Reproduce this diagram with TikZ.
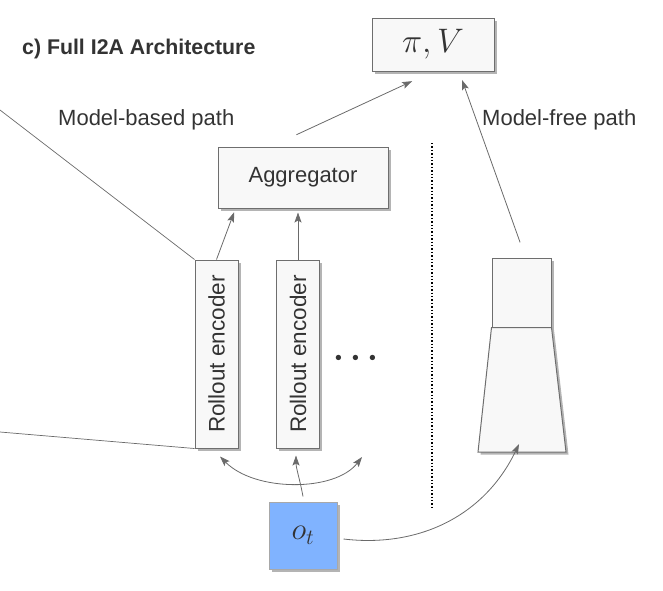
\RequirePackage{fix-cm}
\documentclass[tikz,border=0pt]{standalone}
\usepackage{fontspec}
\usepackage{graphicx}
\usepackage{xcolor}
\usetikzlibrary{arrows.meta, positioning, shadows, shapes.geometric}
\newfontfamily\diagfont{Liberation Sans}
\definecolor{boxfill}{HTML}{F8F8F8}
\definecolor{boxline}{HTML}{6E6E6E}
\definecolor{arrowgray}{HTML}{6A6A6A}
\definecolor{textgray}{HTML}{333333}
\definecolor{obsblue}{HTML}{80B3FF}
\definecolor{shadowgray}{HTML}{B4B4B4}

\begin{document}
\begin{tikzpicture}[
  x=1pt, y=-1pt,
  >={Stealth[length=10pt, width=7pt, inset=2pt]},
  boxlook/.style={
    draw=boxline,
    fill=boxfill,
    line width=1pt,
    drop shadow={shadow xshift=2.5pt, shadow yshift=-2.5pt, fill=shadowgray, opacity=1}
  },
  block/.style={
    boxlook,
    rectangle,
    inner sep=0pt,
    font=\diagfont\fontsize{22}{26}\selectfont,
    text=textgray
  },
  pathtext/.style={
    anchor=base west,
    inner sep=0pt,
    font=\diagfont\fontsize{22}{26}\selectfont,
    text=textgray
  },
  flow/.style={
    ->,
    line width=0.8pt,
    draw=arrowgray
  },
  feed/.style={
    line width=0.7pt,
    draw=arrowgray
  }
]
\useasboundingbox (0,0) rectangle (663,590);

% Output head
\node[block, minimum width=122pt, minimum height=53pt, font=\fontsize{34}{40}\selectfont] (piV) at (433,44.5) {$\pi, V$};

% Model-based path
\node[block, minimum width=170pt, minimum height=61pt] (agg) at (303,177.5) {Aggregator};
\node[block, minimum width=43pt, minimum height=188pt, font=\diagfont\fontsize{22.5}{26}\selectfont] (enc1) at (216.5,354) {\rotatebox{90}{Rollout encoder}};
\node[block, minimum width=43pt, minimum height=188pt, font=\diagfont\fontsize{22.5}{26}\selectfont, right=37.5pt of enc1] (enc2) {\rotatebox{90}{Rollout encoder}};
\node[anchor=base, inner sep=0pt, text=textgray, font=\fontsize{34}{40}\selectfont\boldmath] (dots) at (356,366) {$\cdots$};
\coordinate (encN) at (362,457);

% Model-free path
\node[block, minimum width=59pt, minimum height=69pt] (mfTop) at (521.5,292.5) {};
\path[boxlook] (mfTop.south west) -- (mfTop.south east) -- (566,452) -- (478,452) -- cycle;
\coordinate (mfBase) at (522,452);

% Observation
\node[block, fill=obsblue, draw=boxline!60, minimum width=68pt, minimum height=67pt, font=\fontsize{31}{36}\selectfont] (ot) at (303,535.5) {$o_t$};

% Separator
\coordinate (sepTop) at (432,143);
\coordinate (sepBot) at (432,507);
\draw[dotted, line width=1.4pt] (sepTop) -- (sepBot);

% Labels
\node[pathtext, font=\diagfont\bfseries\fontsize{21.3}{25}\selectfont] (title) at (22,54) {c) Full I2A Architecture};
\node[pathtext] (mbText) at (58,125) {Model-based path};
\node[pathtext] (mfText) at (482,125) {Model-free path};

% Connections
\draw[flow, shorten <=28pt, shorten >=23pt] ([xshift=-32pt]agg.north) -- (piV.south);
\draw[flow, shorten <=16pt, shorten >=9pt] ([xshift=4pt]mfTop.north) -- ([xshift=26pt]piV.south);
\draw[flow, shorten >=4pt] (enc1.north) -- ([xshift=18pt]agg.south west);
\draw[flow, shorten >=4pt] (enc2.north) -- (enc2.north |- agg.south);
\draw[flow] ([yshift=5pt]ot.north) .. controls (300,480) and (296,468) .. ([xshift=-2pt,yshift=-7pt]enc2.south);
\draw[flow, <->] ([xshift=3.5pt,yshift=-8pt]enc1.south) .. controls (255,492) and (335,492) .. (encN);
\draw[flow] ([xshift=6pt,yshift=-3.5pt]ot.east) .. controls (420,548) and (485,515) .. ([xshift=-3pt,yshift=8pt]mfBase);

% From the previous panel
\coordinate (prevTop) at (0,110);
\coordinate (prevBot) at (0,432);
\draw[feed] (prevTop) -- (enc1.north west);
\draw[feed] (prevBot) -- (enc1.south west);
\end{tikzpicture}
\end{document}
